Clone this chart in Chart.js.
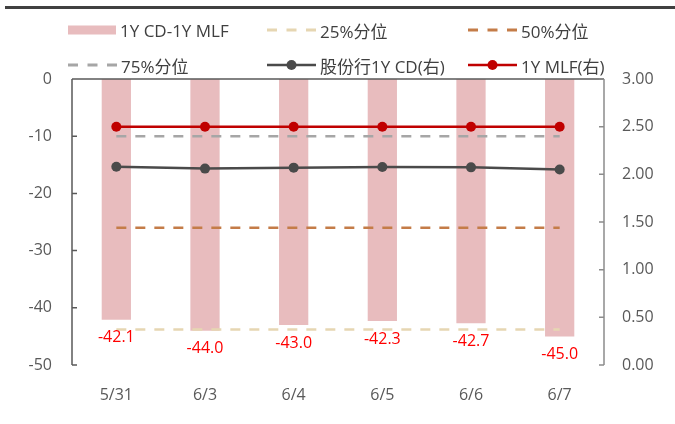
<!DOCTYPE html>
<html>
<head>
<meta charset="utf-8">
<script src="https://cdn.jsdelivr.net/npm/chart.js@4"></script>
<style>
  body { margin: 0; background: #fff; }
  #wrap { position: relative; width: 675px; height: 424px; font-family: "Open Sans", "Noto Sans CJK SC", sans-serif; }
  #topbar { position: absolute; left: 5px; top: 6px; width: 670px; height: 3px; background: #404040; }
  #legend { position: absolute; left: 0; top: 0; }
  .item { position: absolute; display: flex; align-items: center; font-size: 17px; color: #404040; white-space: nowrap; }
  .item svg { margin-right: 4px; }
  canvas { position: absolute; left: 0; top: 0; }
</style>
</head>
<body>
<div id="wrap">
  <div id="topbar"></div>
  <canvas id="spreadChart" width="675" height="424"></canvas>
  <div id="legend"></div>
</div>
<script>
// data
var dates = ["5/31", "6/3", "6/4", "6/5", "6/6", "6/7"];
var spread = [-42.1, -44.0, -43.0, -42.3, -42.7, -45.0];      // 1Y CD - 1Y MLF, bp
var p25 = [-43.8, -43.8, -43.8, -43.8, -43.8, -43.8];
var p50 = [-26.0, -26.0, -26.0, -26.0, -26.0, -26.0];
var p75 = [-10.0, -10.0, -10.0, -10.0, -10.0, -10.0];
var cdRate = [2.079, 2.060, 2.070, 2.077, 2.073, 2.050];     // 股份行1Y CD, %
var mlfRate = [2.50, 2.50, 2.50, 2.50, 2.50, 2.50];          // 1Y MLF, %

var leftTicks = [0, -10, -20, -30, -40, -50];
var rightTicks = [0, 0.5, 1, 1.5, 2, 2.5, 3];

var FONT = '"Open Sans", "Noto Sans CJK SC", sans-serif';

// draws the axis lines (ticks pointing inward) and the red bar labels
var extras = {
    id: "extras",
    afterDraw: function (chart) {
        var ctx = chart.ctx;
        var a = chart.chartArea;
        var yL = chart.scales.y;
        var yR = chart.scales.y1;
        ctx.save();

        ctx.lineWidth = 1.5;
        ctx.strokeStyle = "#595959";
        ctx.beginPath();
        ctx.moveTo(a.left, a.top);
        ctx.lineTo(a.right, a.top);
        ctx.moveTo(a.left, a.top);
        ctx.lineTo(a.left, a.bottom);
        leftTicks.forEach(function (v) {
            var y = yL.getPixelForValue(v);
            ctx.moveTo(a.left, y);
            ctx.lineTo(a.left + 5, y);
        });
        ctx.stroke();

        ctx.strokeStyle = "#8c8c8c";
        ctx.beginPath();
        ctx.moveTo(a.right, a.top);
        ctx.lineTo(a.right, a.bottom);
        rightTicks.forEach(function (v) {
            var y = yR.getPixelForValue(v);
            ctx.moveTo(a.right - 5, y);
            ctx.lineTo(a.right, y);
        });
        ctx.stroke();

        // value labels under the bars
        var meta = chart.getDatasetMeta(0);
        ctx.fillStyle = "#ff0000";
        ctx.font = "16px " + FONT;
        ctx.textAlign = "center";
        ctx.textBaseline = "middle";
        meta.data.forEach(function (bar, i) {
            ctx.fillText(spread[i].toFixed(1), bar.x, bar.y + 18);
        });
        ctx.restore();
    },
};

var ctx = document.getElementById("spreadChart").getContext("2d");
var spreadChart = new Chart(ctx, {
    type: "bar",
    data: {
        labels: dates,
        datasets: [
            {
                label: "1Y CD-1Y MLF",
                data: spread,
                backgroundColor: "#e8bcbe",
                barPercentage: 0.33,
                categoryPercentage: 1,
                yAxisID: "y",
                order: 10,
            },
            {
                type: "line",
                label: "25%分位",
                data: p25,
                borderColor: "#e6d6b2",
                borderWidth: 2.5,
                borderDash: [10, 9],
                pointRadius: 0,
                yAxisID: "y",
                order: 3,
            },
            {
                type: "line",
                label: "50%分位",
                data: p50,
                borderColor: "#c47c48",
                borderWidth: 2.5,
                borderDash: [10, 9],
                pointRadius: 0,
                yAxisID: "y",
                order: 3,
            },
            {
                type: "line",
                label: "75%分位",
                data: p75,
                borderColor: "#a6a6a6",
                borderWidth: 2.5,
                borderDash: [10, 9],
                pointRadius: 0,
                yAxisID: "y",
                order: 3,
            },
            {
                type: "line",
                label: "股份行1Y CD(右)",
                data: cdRate,
                borderColor: "#4a4a4a",
                backgroundColor: "#4a4a4a",
                borderWidth: 2.5,
                pointRadius: 5,
                pointBorderWidth: 0,
                yAxisID: "y1",
                order: 1,
            },
            {
                type: "line",
                label: "1Y MLF(右)",
                data: mlfRate,
                borderColor: "#c00000",
                backgroundColor: "#c00000",
                borderWidth: 2.5,
                pointRadius: 5,
                pointBorderWidth: 0,
                yAxisID: "y1",
                order: 1,
            },
        ],
    },
    options: {
        responsive: false,
        animation: false,
        layout: { padding: { left: 0, right: 0, top: 79, bottom: 0 } },
        plugins: { legend: { display: false }, tooltip: { enabled: false } },
        scales: {
            x: {
                grid: { display: false },
                border: { display: false },
                ticks: { color: "#595959", font: { size: 16, family: FONT }, padding: 13 },
                afterFit: function (s) { s.height = 59; },
            },
            y: {
                position: "left",
                min: -50,
                max: 0,
                grid: { display: false },
                border: { display: false },
                ticks: {
                    stepSize: 10,
                    color: "#595959",
                    font: { size: 16, family: FONT },
                    padding: 12,
                },
                afterFit: function (s) { s.width = 72; },
            },
            y1: {
                position: "right",
                min: 0,
                max: 3,
                grid: { display: false },
                border: { display: false },
                ticks: {
                    stepSize: 0.5,
                    color: "#595959",
                    font: { size: 16, family: FONT },
                    padding: 10,
                    callback: function (v) { return v.toFixed(2); },
                },
                afterFit: function (s) { s.width = 71; },
            },
        },
    },
    plugins: [extras],
});

// HTML legend built from the datasets, 3 per row
var legendEl = document.getElementById("legend");
var cols = [68, 267, 468];
var rows = [30, 65];
spreadChart.data.datasets.forEach(function (ds, i) {
    var item = document.createElement("div");
    item.className = "item";
    item.style.left = cols[i % 3] + "px";
    item.style.top = (rows[Math.floor(i / 3)] - 12) + "px";
    item.style.height = "24px";
    var svg;
    if (ds.type === undefined) {
        svg = '<svg width="48" height="10"><rect x="0" y="0.5" width="48" height="9" fill="' + ds.backgroundColor + '"/></svg>';
    } else if (ds.pointRadius === 0) {
        svg = '<svg width="49" height="10"><line x1="0" y1="5" x2="49" y2="5" stroke="' + ds.borderColor +
            '" stroke-width="3" stroke-dasharray="10,9.5"/></svg>';
    } else {
        svg = '<svg width="49" height="12"><line x1="0" y1="6" x2="49" y2="6" stroke="' + ds.borderColor +
            '" stroke-width="2.5"/><circle cx="24.5" cy="6" r="5" fill="' + ds.borderColor + '"/></svg>';
    }
    item.innerHTML = svg + "<span>" + ds.label + "</span>";
    legendEl.appendChild(item);
});
</script>
</body>
</html>
